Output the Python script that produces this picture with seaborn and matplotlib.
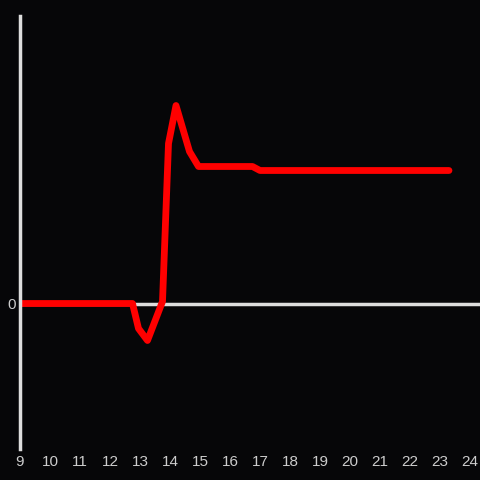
import matplotlib
matplotlib.use("Agg")
import matplotlib.pyplot as plt
import seaborn as sns
import pandas as pd

# hour of day vs. value
hours = [9.0, 12.75, 12.95, 13.25, 13.75, 13.95, 14.2, 14.65, 14.95, 16.75, 17.0, 23.3]
values = [0.0, 0.0, -0.25, -0.37, 0.02, 1.60, 1.98, 1.52, 1.37, 1.37, 1.33, 1.33]
xticks = list(range(9, 25))

df = pd.DataFrame({"hour": hours, "value": values})

bg = "#060608"
sns.set_style("dark")
plt.rcParams['font.family'] = ['Liberation Sans', 'DejaVu Sans']

fig = plt.figure(figsize=(4.8, 4.8), dpi=100, facecolor=bg)
ax = fig.add_axes([20 / 480, 31.5 / 480, 460 / 480, 433 / 480])
ax.set_facecolor(bg)

# zero line
ax.axhline(0, color="#dddddd", lw=2.5, zorder=1)

sns.lineplot(data=df, x="hour", y="value", color="#ff0000", lw=4.9,
             ax=ax, zorder=3)

ax.set_xlim(9, 9 + 460 / 30)
ax.set_ylim(-1.45, 2.88)
ax.set_xticks(xticks)
ax.set_xticklabels([str(t) for t in xticks])
ax.set_yticks([0])
ax.set_yticklabels(["0"])
ax.tick_params(length=0, colors="#cccccc", labelsize=11, pad=3)
ax.tick_params(axis="x", pad=5)
ax.set_xlabel("")
ax.set_ylabel("")
ax.grid(False)

for s in ["top", "right", "bottom"]:
    ax.spines[s].set_visible(False)
ax.spines["left"].set_color("#dddddd")
ax.spines["left"].set_linewidth(2.5)
ax.spines["left"].set_zorder(4)

fig.savefig("out.png", dpi=100, facecolor=bg)
